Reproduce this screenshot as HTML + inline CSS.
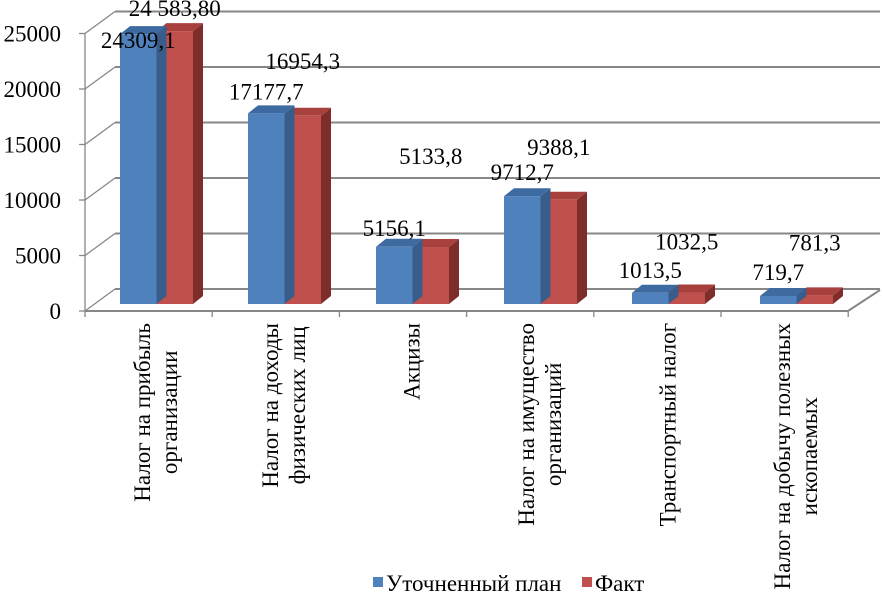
<!DOCTYPE html>
<html><head><meta charset="utf-8"><style>
body{margin:0;background:#fff}
svg{display:block}
text{font-family:"Liberation Serif","Times New Roman","DejaVu Serif",serif}
</style></head><body>
<svg id="c" width="882" height="593"></svg>
<script>
const categories=[["Налог на прибыль","организации"],["Налог на доходы","физических лиц"],["Акцизы"],["Налог на имущество","организаций"],["Транспортный налог"],["Налог на добычу полезных","ископаемых"]];
const planValues=[24309.1,17177.7,5156.1,9712.7,1013.5,719.7];
const factValues=[24583.8,16954.3,5133.8,9388.1,1032.5,781.3];
const planLabels=["24309,1","17177,7","5156,1","9712,7","1013,5","719,7"];
const factLabels=["24 583,80","16954,3","5133,8","9388,1","1032,5","781,3"];
const yTicks=[0,5000,10000,15000,20000,25000];
const planLift=[-14,14,11,16,15,16];
const factLift=[15,47,83,45,43,45];

const NS="http://www.w3.org/2000/svg";
const svg=document.getElementById('c');
const FF="Liberation Serif, Times New Roman, DejaVu Serif, serif";
const FS=23;
function mk(t,a,p){const e=document.createElementNS(NS,t);for(const k in a)e.setAttribute(k,a[k]);if(t==='text'){e.setAttribute('font-family',FF);}(p||svg).appendChild(e);return e;}
const k=55.5/5000;
const yBack=v=>289-v*k, yFront=v=>311-v*k, yBar=v=>304-v*k;
const groupX=i=>120+i*128;
const DX=10,DY=8,BW=36.5;
yTicks.forEach((t,i)=>{
  const g=mk('line',{x1:115,x2:880,y1:yBack(t),y2:yBack(t),stroke:'#878787','stroke-width':2});
  
  const s=mk('line',{x1:85,y1:yFront(t),x2:115,y2:yBack(t),stroke:'#878787','stroke-width':1.3});
  
  const tk=mk('line',{x1:79,x2:85,y1:yFront(t),y2:yFront(t),stroke:'#878787','stroke-width':1.3});
  
  const tx=mk('text',{x:61,y:yFront(t)+8,'text-anchor':'end','font-size':FS});
  tx.textContent=String(t);
  
});
const ax=mk('line',{x1:85,y1:yFront(25000),x2:85,y2:311,stroke:'#878787','stroke-width':1.3});

const fl=mk('polyline',{points:'85,311 848,311 880,290',fill:'none',stroke:'#878787','stroke-width':2});

for(let i=0;i<=categories.length;i++){
  const x=85+i*127.2;
  const t=mk('line',{x1:x,x2:x,y1:311,y2:317,stroke:'#878787','stroke-width':1.3});
  
}
function bar(x,v,front,top,side,name){
  const g=mk('g',{});
  
  const yt=yBar(v);
  mk('polygon',{points:`${x+BW},${yt} ${x+BW+DX},${yt-DY} ${x+BW+DX},${304-DY} ${x+BW},304`,fill:side},g);
  mk('polygon',{points:`${x},${yt} ${x+DX},${yt-DY} ${x+BW+DX},${yt-DY} ${x+BW},${yt}`,fill:top},g);
  mk('rect',{x:x,y:yt,width:BW,height:304-yt,fill:front},g);
}
categories.forEach((c,i)=>{
  const x=groupX(i);
  bar(x+BW,factValues[i],'#c0504d','#a8403d','#7f2d2b','bar-fact-'+i);
  bar(x,planValues[i],'#4f81bd','#3d6aa0','#385d8a','bar-plan-'+i);
});
categories.forEach((c,i)=>{
  const x=groupX(i);
  const fp=mk('text',{x:x+BW*1.5,y:yBar(factValues[i])-factLift[i],'text-anchor':'middle','font-size':FS});
  fp.textContent=factLabels[i];
  
  const pp=mk('text',{x:x+BW*0.5,y:yBar(planValues[i])-planLift[i],'text-anchor':'middle','font-size':FS});
  pp.textContent=planLabels[i];
  
  const g=mk('g',{});
  
  const texts=c.map((line,j)=>{const t=mk('text',{'text-anchor':'middle','font-size':FS},g);t.textContent=line;return t;});
  const maxLen=Math.max(...texts.map(t=>t.getComputedTextLength()));
  const cy=323+maxLen/2, cx=x+BW;
  const n=c.length;
  texts.forEach((t,j)=>{
    const lx=cx+(j-(n-1)/2)*27+7;
    t.setAttribute('transform',`translate(${lx},${cy}) rotate(-90)`);
  });
});
const lg=mk('g',{});

const s1=mk('rect',{x:373,y:577,width:10,height:10,fill:'#4f81bd'},lg);

const t1=mk('text',{x:386,y:591,'font-size':FS},lg);t1.textContent='Уточненный план';

const s2=mk('rect',{x:582,y:577,width:10,height:10,fill:'#c0504d'},lg);

const t2=mk('text',{x:595,y:591,'font-size':FS},lg);t2.textContent='Факт';

</script>
</body></html>
